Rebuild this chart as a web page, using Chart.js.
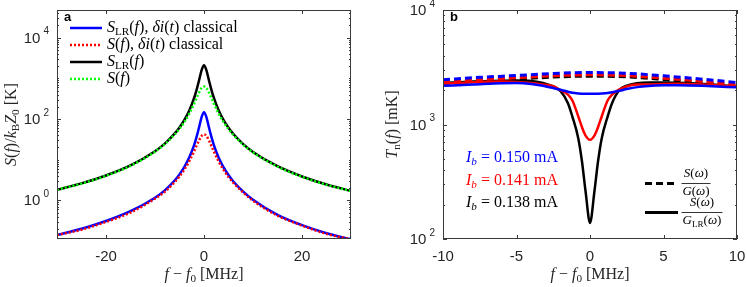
<!DOCTYPE html>
<html>
<head>
<meta charset="utf-8">
<script src="https://cdn.jsdelivr.net/npm/chart.js@4/dist/chart.umd.min.js"></script>
<style>
  html, body { margin: 0; padding: 0; background: #fff; }
  #wrap { position: relative; width: 747px; height: 287px; }
  canvas { position: absolute; top: 0; }
</style>
</head>
<body>
<div id="wrap">
  <canvas id="chart-a" width="373" height="287" style="left:0"></canvas>
  <canvas id="chart-b" width="374" height="287" style="left:373px"></canvas>
</div>
<script>
// ---- panel a: spectra vs detuning (MHz) ----
const freqA = [-30, -25, -20, -15, -10, -8, -6, -5, -4, -3, -2, -1.5, -1, -0.5, 0, 0.5, 1, 1.5, 2, 3, 4, 5, 6, 8, 10, 15, 20, 25, 30];
const sLrClassical = [0.14, 0.2, 0.31, 0.54, 1.16, 1.76, 3.07, 4.35, 6.65, 11.4, 23.2, 36.8, 62.9, 110, 146, 110, 62.9, 36.8, 23.2, 11.2, 6.5, 4.2, 2.9, 1.64, 1.04, 0.44, 0.245, 0.155, 0.11];
const sClassical = [0.14, 0.19, 0.295, 0.5, 1.1, 1.62, 2.8, 3.85, 5.75, 9.2, 16.2, 22.2, 30, 38.2, 42, 38.2, 30, 22, 16, 9.0, 5.6, 3.75, 2.7, 1.56, 0.98, 0.42, 0.24, 0.15, 0.11];
const sLr = [1.82, 2.62, 4.08, 7.2, 16.1, 24.8, 43.6, 62, 95, 163, 334, 529, 905, 1579, 2100, 1579, 905, 529, 334, 162, 94, 61, 42.7, 24.2, 15.5, 6.9, 3.86, 2.46, 1.7];
const sPlain = [1.82, 2.58, 4.02, 7.05, 15.7, 24.1, 41.6, 57.5, 85, 137, 242, 332, 450, 573, 630, 573, 450, 332, 242, 136, 84, 56.5, 40.5, 23.4, 15.1, 6.75, 3.8, 2.42, 1.7];

// ---- panel b: noise temperature (mK) ----
const freqB = [-10, -8, -6, -5, -4, -3.2, -2.5, -2, -1.5, -1.2, -0.8, -0.55, -0.3, 0, 0.3, 0.55, 0.8, 1.2, 1.5, 2, 2.5, 3.2, 4, 5, 6, 8, 10];
const tLr150 = [2177, 2230, 2290, 2300, 2260, 2177, 2080, 2010, 1930, 1890, 1865, 1858, 1855, 1853, 1855, 1858, 1865, 1885, 1915, 1970, 2040, 2120, 2170, 2200, 2207, 2170, 2110];
const tLr141 = [2265, 2340, 2370, 2350, 2300, 2240, 2160, 1990, 1820, 1620, 1180, 950, 800, 735, 800, 950, 1180, 1620, 1820, 2030, 2150, 2230, 2240, 2260, 2265, 2220, 2148];
const tLr138 = [2297, 2370, 2410, 2420, 2400, 2300, 2150, 1950, 1536, 1174, 760, 480, 260, 138, 260, 480, 760, 1174, 1536, 2000, 2180, 2290, 2330, 2330, 2320, 2250, 2148];
const freqDash = [-10, -7.5, -5, -2.5, 0, 2.5, 5, 7.5, 10];
const tG150 = [2455, 2580, 2680, 2790, 2843, 2800, 2660, 2500, 2324];
const tG141 = [2345, 2465, 2560, 2665, 2715, 2675, 2540, 2390, 2220];
const tG138 = [2285, 2400, 2490, 2595, 2645, 2605, 2475, 2325, 2160];

const SANS = "'Liberation Sans', Arial, sans-serif";
const SERIF = "'Liberation Serif', 'Times New Roman', serif";
const INK = '#262626';

function pts(xs, ys) {
  return xs.map((x, i) => ({ x: x, y: ys[i] }));
}

// draws a run of text pieces: {t, i (italic), sub, sup}
function drawRich(ctx, segs, x, y, size, align) {
  const parts = segs.map(s => {
    const small = s.sub || s.sup;
    const sz = small ? size * 0.7 : size;
    const font = (s.i ? 'italic ' : '') + sz + 'px ' + SERIF;
    ctx.font = font;
    return { t: s.t, font, w: ctx.measureText(s.t).width, dy: s.sub ? size * 0.28 : (s.sup ? -size * 0.35 : 0) };
  });
  const total = parts.reduce((a, p) => a + p.w, 0);
  let cx = align === 'center' ? x - total / 2 : (align === 'right' ? x - total : x);
  ctx.textAlign = 'left';
  ctx.textBaseline = 'middle';
  parts.forEach(p => {
    ctx.font = p.font;
    ctx.fillText(p.t, cx, y + p.dy);
    cx += p.w;
  });
  return total;
}

function logMinor(lo, hi, majors) {
  const out = [];
  for (let e = lo; e <= hi; e++) {
    for (let m = 1; m < 10; m++) {
      const v = m * Math.pow(10, e);
      if (!majors.includes(v)) out.push(v);
    }
  }
  return out;
}

// box, inward ticks, tick labels, titles
function framePlugin(cfg) {
  return {
    id: 'frame',
    afterDraw(chart) {
      const ctx = chart.ctx;
      const a = chart.chartArea;
      const xs = chart.scales.x, ys = chart.scales.y;
      ctx.save();
      ctx.strokeStyle = '#3a3a3a';
      ctx.lineWidth = 1;
      ctx.strokeRect(Math.round(a.left) + 0.5, Math.round(a.top) + 0.5, Math.round(a.right - a.left) - 1, Math.round(a.bottom - a.top) - 1);

      ctx.beginPath();
      cfg.xTicks.forEach(v => {
        const px = Math.round(xs.getPixelForValue(v)) + 0.5;
        ctx.moveTo(px, a.bottom); ctx.lineTo(px, a.bottom - 4);
        ctx.moveTo(px, a.top); ctx.lineTo(px, a.top + 4);
      });
      cfg.yMajor.forEach(v => {
        const py = Math.round(ys.getPixelForValue(v)) + 0.5;
        ctx.moveTo(a.left, py); ctx.lineTo(a.left + 4, py);
        ctx.moveTo(a.right, py); ctx.lineTo(a.right - 4, py);
      });
      cfg.yMinor.forEach(v => {
        if (v < ys.min || v > ys.max) return;
        const py = Math.round(ys.getPixelForValue(v)) + 0.5;
        ctx.moveTo(a.left, py); ctx.lineTo(a.left + 2, py);
        ctx.moveTo(a.right, py); ctx.lineTo(a.right - 2, py);
      });
      ctx.stroke();

      ctx.fillStyle = INK;
      ctx.font = '15px ' + SANS;
      ctx.textAlign = 'center';
      ctx.textBaseline = 'middle';
      cfg.xTicks.forEach(v => {
        ctx.fillText(String(v), xs.getPixelForValue(v), a.bottom + 18);
      });
      cfg.yLabels.forEach(v => {
        const py = ys.getPixelForValue(v);
        const ex = String(Math.round(Math.log10(v)));
        ctx.font = '10px ' + SANS;
        const ew = ctx.measureText(ex).width;
        ctx.textAlign = 'right';
        ctx.fillText(ex, a.left - 8, py - 6);
        ctx.font = '15px ' + SANS;
        ctx.fillText('10', a.left - 11 - ew, py + 1);
      });

      ctx.fillStyle = INK;
      drawRich(ctx, [{ t: 'f', i: true }, { t: ' \u2212 ' }, { t: 'f', i: true }, { t: '0', sub: true }, { t: ' [MHz]' }],
        (a.left + a.right) / 2, 275, 16, 'center');

      ctx.save();
      ctx.translate(cfg.yTitleX, (a.top + a.bottom) / 2);
      ctx.rotate(-Math.PI / 2);
      drawRich(ctx, cfg.yTitle, 0, 0, 16, 'center');
      ctx.restore();

      ctx.fillStyle = '#000';
      ctx.font = 'bold 13px ' + SANS;
      ctx.textAlign = 'left';
      ctx.textBaseline = 'middle';
      ctx.fillText(cfg.tag, a.left + 7, 17);

      if (cfg.extra) cfg.extra(ctx, chart);
      ctx.restore();
    }
  };
}

function baseOptions(pad, xmin, xmax, ymin, ymax) {
  return {
    responsive: false,
    devicePixelRatio: 1,
    animation: false,
    layout: { padding: pad },
    plugins: { legend: { display: false }, tooltip: { enabled: false } },
    elements: { point: { radius: 0 }, line: { cubicInterpolationMode: 'monotone' } },
    scales: {
      x: { type: 'linear', min: xmin, max: xmax, display: false },
      y: { type: 'logarithmic', min: ymin, max: ymax, display: false }
    }
  };
}

function sample(ctx, x0, x1, y, color, width, dash) {
  ctx.save();
  ctx.strokeStyle = color;
  ctx.lineWidth = width;
  ctx.setLineDash(dash || []);
  ctx.beginPath();
  ctx.moveTo(x0, y); ctx.lineTo(x1, y);
  ctx.stroke();
  ctx.restore();
}

// ---------- panel a ----------
const legendA = [
  { color: '#0000ff', dash: [], text: [{ t: 'S', i: true }, { t: 'LR', sub: true }, { t: '(' }, { t: 'f', i: true }, { t: '), ' }, { t: '\u03b4', i: true }, { t: 'i', i: true }, { t: '(' }, { t: 't', i: true }, { t: ') classical' }] },
  { color: '#ff0000', dash: [2, 2], text: [{ t: 'S', i: true }, { t: '(' }, { t: 'f', i: true }, { t: '), ' }, { t: '\u03b4', i: true }, { t: 'i', i: true }, { t: '(' }, { t: 't', i: true }, { t: ') classical' }] },
  { color: '#000000', dash: [], text: [{ t: 'S', i: true }, { t: 'LR', sub: true }, { t: '(' }, { t: 'f', i: true }, { t: ')' }] },
  { color: '#00ff00', dash: [2, 2], text: [{ t: 'S', i: true }, { t: '(' }, { t: 'f', i: true }, { t: ')' }] }
];
const legendRowsA = [28, 45, 62, 79];

new Chart(document.getElementById('chart-a'), {
  type: 'line',
  data: {
    datasets: [
      { data: pts(freqA, sLrClassical), borderColor: '#0000ff', borderWidth: 2.5, order: 3 },
      { data: pts(freqA, sClassical), borderColor: '#ff0000', borderWidth: 2.5, borderDash: [2, 2], order: 2 },
      { data: pts(freqA, sLr), borderColor: '#000000', borderWidth: 2.5, order: 1 },
      { data: pts(freqA, sPlain), borderColor: '#00ff00', borderWidth: 2.5, borderDash: [2, 2], order: 0 }
    ]
  },
  options: baseOptions({ left: 57, right: 22, top: 10, bottom: 48 }, -30, 30, 0.112, 48000),
  plugins: [framePlugin({
    tag: 'a',
    xTicks: [-20, 0, 20],
    yMajor: [1, 100, 10000],
    yMinor: logMinor(-1, 4, [1, 100, 10000]),
    yLabels: [1, 100, 10000],
    yTitleX: 12,
    yTitle: [{ t: 'S', i: true }, { t: '(' }, { t: 'f', i: true }, { t: ')/' }, { t: 'k', i: true }, { t: 'B', sub: true }, { t: 'Z', i: true }, { t: '0', sub: true }, { t: ' [K]' }],
    extra(ctx) {
      legendA.forEach((item, i) => {
        const y = legendRowsA[i];
        sample(ctx, 70, 102, y, item.color, 2.5, item.dash);
        ctx.fillStyle = '#000';
        drawRich(ctx, item.text, 107, y, 16, 'left');
      });
    }
  })]
});

// ---------- panel b ----------
const labelsB = [
  { color: '#0000ff', value: '0.150', y: 158 },
  { color: '#ff0000', value: '0.141', y: 181 },
  { color: '#000000', value: '0.138', y: 203 }
];

function fraction(ctx, cx, y, num, den, w) {
  ctx.fillStyle = '#000';
  drawRich(ctx, num, cx, y - 9, 13, 'center');
  drawRich(ctx, den, cx, y + 9, 13, 'center');
  ctx.strokeStyle = '#000';
  ctx.lineWidth = 0.8;
  ctx.beginPath();
  ctx.moveTo(cx - w / 2, y + 0.5); ctx.lineTo(cx + w / 2, y + 0.5);
  ctx.stroke();
}

const sOmega = [{ t: 'S', i: true }, { t: '(' }, { t: '\u03c9', i: true }, { t: ')' }];

new Chart(document.getElementById('chart-b'), {
  type: 'line',
  data: {
    datasets: [
      { data: pts(freqDash, tG150), borderColor: '#0000ff', borderWidth: 3, borderDash: [7, 4], order: 0 },
      { data: pts(freqDash, tG141), borderColor: '#ff0000', borderWidth: 3, borderDash: [7, 4], order: 2 },
      { data: pts(freqDash, tG138), borderColor: '#000000', borderWidth: 3, borderDash: [7, 4], order: 4 },
      { data: pts(freqB, tLr150), borderColor: '#0000ff', borderWidth: 2.5, order: 1 },
      { data: pts(freqB, tLr141), borderColor: '#ff0000', borderWidth: 2.5, order: 3 },
      { data: pts(freqB, tLr138), borderColor: '#000000', borderWidth: 2.5, order: 5 }
    ]
  },
  options: baseOptions({ left: 70, right: 10, top: 10, bottom: 48 }, -10, 10, 100, 10000),
  plugins: [framePlugin({
    tag: 'b',
    xTicks: [-10, -5, 0, 5, 10],
    yMajor: [100, 1000, 10000],
    yMinor: logMinor(2, 3, [100, 1000, 10000]),
    yLabels: [100, 1000, 10000],
    yTitleX: 20,
    yTitle: [{ t: 'T', i: true }, { t: 'n', sub: true }, { t: '(' }, { t: 'f', i: true }, { t: ') [mK]' }],
    extra(ctx) {
      labelsB.forEach(l => {
        ctx.fillStyle = l.color;
        drawRich(ctx, [{ t: 'I', i: true }, { t: 'b', i: true, sub: true }, { t: ' = ' + l.value + ' mA' }], 93, l.y, 16, 'left');
      });
      sample(ctx, 272, 305, 183.5, '#000', 3, [7, 4]);
      fraction(ctx, 323, 183, sOmega, [{ t: 'G', i: true }, { t: '(' }, { t: '\u03c9', i: true }, { t: ')' }], 29);
      sample(ctx, 272, 305, 212.5, '#000', 3, []);
      fraction(ctx, 329, 212, sOmega, [{ t: 'G', i: true }, { t: 'LR', sub: true }, { t: '(' }, { t: '\u03c9', i: true }, { t: ')' }], 41);
    }
  })]
});
</script>
</body>
</html>
